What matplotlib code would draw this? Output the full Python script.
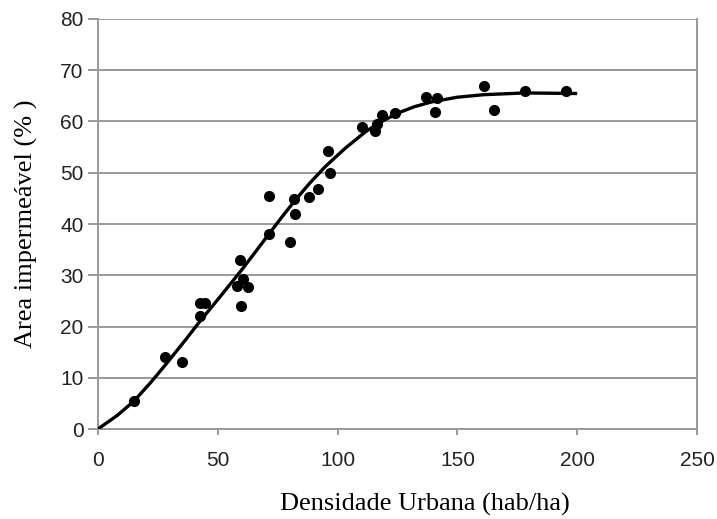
import numpy as np
import matplotlib.pyplot as plt

dens = [15, 28, 35, 42.6, 44.6, 42.6, 59.3, 58, 62.8, 59.7, 60.5,
        71.5, 71.5, 80.2, 82.3, 82, 87.9, 92, 96.7, 95.9,
        110.2, 115.5, 116.5, 118.5, 124.1, 136.7, 141.6, 140.6,
        161.1, 165.3, 178.1, 195.5]
imp = [5.5, 14.0, 13.1, 24.6, 24.6, 22.1, 33.0, 28.0, 27.7, 24.0, 29.2,
       38.0, 45.5, 36.5, 42.0, 44.9, 45.2, 46.8, 50.0, 54.3,
       59.0, 58.1, 59.6, 61.2, 61.7, 64.7, 64.5, 61.9,
       66.9, 62.2, 66.0, 66.0]

# fitted curve (traced)
fit_x = [0, 8, 15, 22, 28, 36, 43, 51, 59.5, 66, 71.5, 77, 82.3, 88,
         94.8, 103, 111.6, 117.2, 125.5, 132, 139.3, 150, 161, 178, 200]
fit_y = [0, 2.64, 5.44, 9.08, 12.44, 17.08, 21.28, 25.84, 30.77, 34.74,
         38.15, 41.51, 44.64, 47.78, 51.18, 54.71, 57.98, 59.72, 61.71,
         62.88, 63.83, 64.74, 65.23, 65.57, 65.46]

fig = plt.figure(figsize=(7.17, 5.19), dpi=100)
ax = fig.add_axes([0.1367, 0.1734, 0.8354, 0.79])

grey = "#999999"
ax.plot(fit_x, fit_y, color="black", lw=2.4, solid_capstyle="butt",
        solid_joinstyle="round", zorder=3)
ax.plot(dens, imp, "o", color="black", ms=7, zorder=4)

ax.set_xlim(0, 250)
ax.set_ylim(0, 80)
ax.set_xticks(range(0, 251, 50))
ax.set_yticks(range(0, 81, 10))
ax.yaxis.grid(True, color=grey, lw=1.4)
ax.set_axisbelow(True)
for s in ax.spines.values():
    s.set_color(grey)
    s.set_linewidth(1.4)
ax.spines["top"].set_visible(False)
ax.tick_params(axis="x", direction="out", length=4.5, width=1.4, color=grey,
               labelsize=15, pad=11, labelcolor="#222222")
ax.tick_params(axis="y", direction="out", length=7, width=1.4, color=grey,
               labelsize=15, pad=3.5, labelcolor="#222222")
for lab in ax.get_xticklabels() + ax.get_yticklabels():
    lab.set_fontfamily("Liberation Sans")

ax.set_xlabel("Densidade Urbana (hab/ha)", family="Liberation Serif",
              fontsize=19, labelpad=16)
ax.xaxis.set_label_coords(0.545, -0.155)
ax.set_ylabel("Area impermeável (% )", family="Liberation Serif",
              fontsize=19, labelpad=16)

fig.savefig("out.png", dpi=100)
